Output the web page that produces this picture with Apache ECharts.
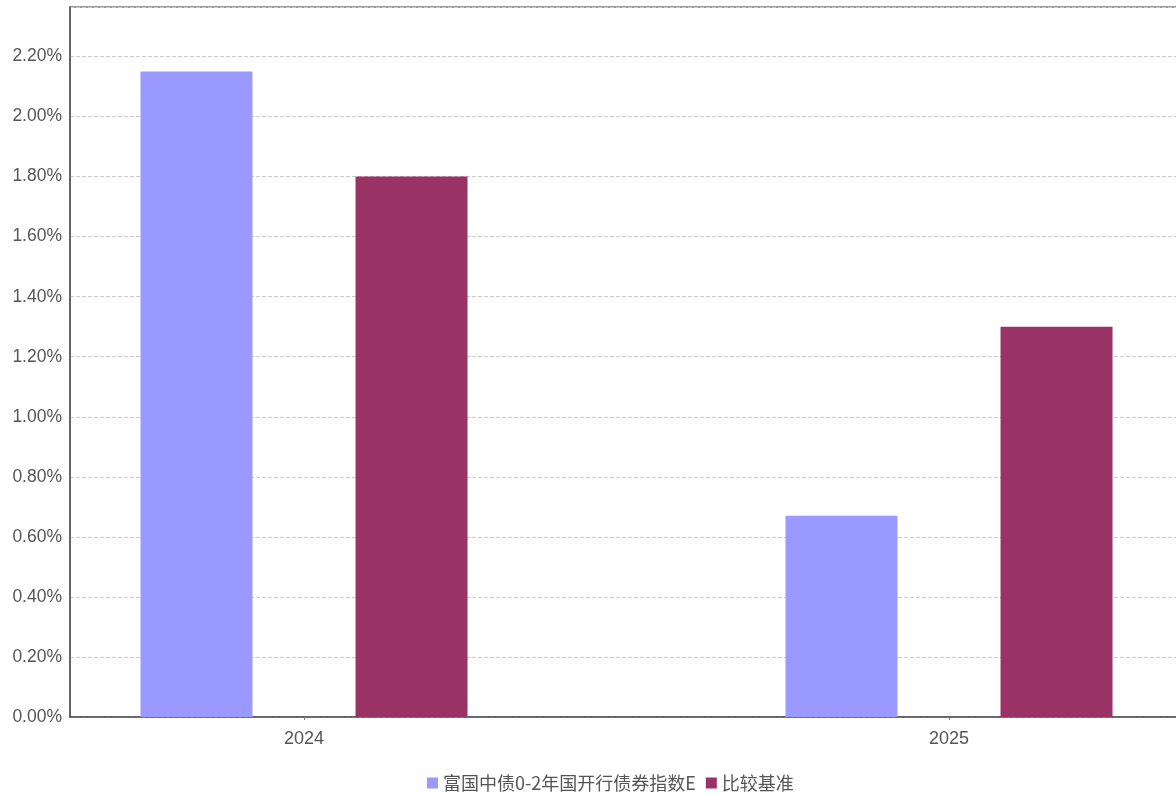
<!DOCTYPE html>
<html><head><meta charset="utf-8">
<script src="https://cdn.jsdelivr.net/npm/echarts@6/dist/echarts.min.js"></script>
<style>html,body{margin:0;padding:0;background:#fff}#c{width:1176px;height:794px}</style>
</head><body><div id="c"></div>
<script>
const categories = ['2024', '2025'];
const seriesNames = ['富国中债0-2年国开行债券指数E', '比较基准'];
const fundValues = [2.15, 0.67];
const benchValues = [1.80, 1.30];
const yTicks = [0, 0.2, 0.4, 0.6, 0.8, 1.0, 1.2, 1.4, 1.6, 1.8, 2.0, 2.2];

const yMax = 2.365;
const chart = echarts.init(document.getElementById('c'));
chart.setOption({
  animation: false,
  textStyle: {fontFamily: 'Liberation Sans, Arial, sans-serif'},
  legend: {
    left: 422, top: 769, icon: 'rect', itemWidth: 11, itemHeight: 11, itemGap: 10,
    textStyle: {fontFamily: 'Noto Sans CJK SC', fontSize: 18, color: '#555'},
    data: seriesNames
  },
  grid: [
    {left: 70, top: 7, right: -3, bottom: 77, show: true, borderColor: '#999', borderWidth: 2,
     outerBoundsMode: 'none', containLabel: false},
    {left: -18.5, right: -95.5, top: 7, bottom: 77, outerBoundsMode: 'none', containLabel: false}
  ],
  xAxis: [
    {gridIndex: 0, type: 'category', data: [''], axisLine: {lineStyle: {color: '#555', width: 1.5}},
     axisTick: {show: false}, axisLabel: {show: false}},
    {gridIndex: 1, type: 'category', data: categories, axisLine: {show: false},
     axisTick: {show: true, alignWithLabel: true, length: 3, lineStyle: {color: '#777'}},
     axisLabel: {fontSize: 18, color: '#555', margin: 13}}
  ],
  yAxis: [
    {gridIndex: 0, type: 'value', min: 0, max: yMax, interval: 0.2,
     axisLine: {show: true, lineStyle: {color: '#555', width: 1.5}}, axisTick: {show: false},
     axisLabel: {fontSize: 17.5, color: '#555', margin: 8,
       formatter: v => yTicks.some(t => Math.abs(t - v) < 1e-6) ? v.toFixed(2) + '%' : ''},
     splitLine: {show: true, lineStyle: {color: '#ccc', type: 'dashed'}}},
    {gridIndex: 1, type: 'value', min: 0, max: yMax, show: false, splitLine: {show: false}}
  ],
  series: [
    {name: seriesNames[0], type: 'bar', xAxisIndex: 1, yAxisIndex: 1, data: fundValues,
     barWidth: 112, barGap: '92%', itemStyle: {color: '#9999FF'}},
    {name: seriesNames[1], type: 'bar', xAxisIndex: 1, yAxisIndex: 1, data: benchValues,
     barWidth: 112, barGap: '92%', itemStyle: {color: '#993366'}}
  ]
});
</script></body></html>
